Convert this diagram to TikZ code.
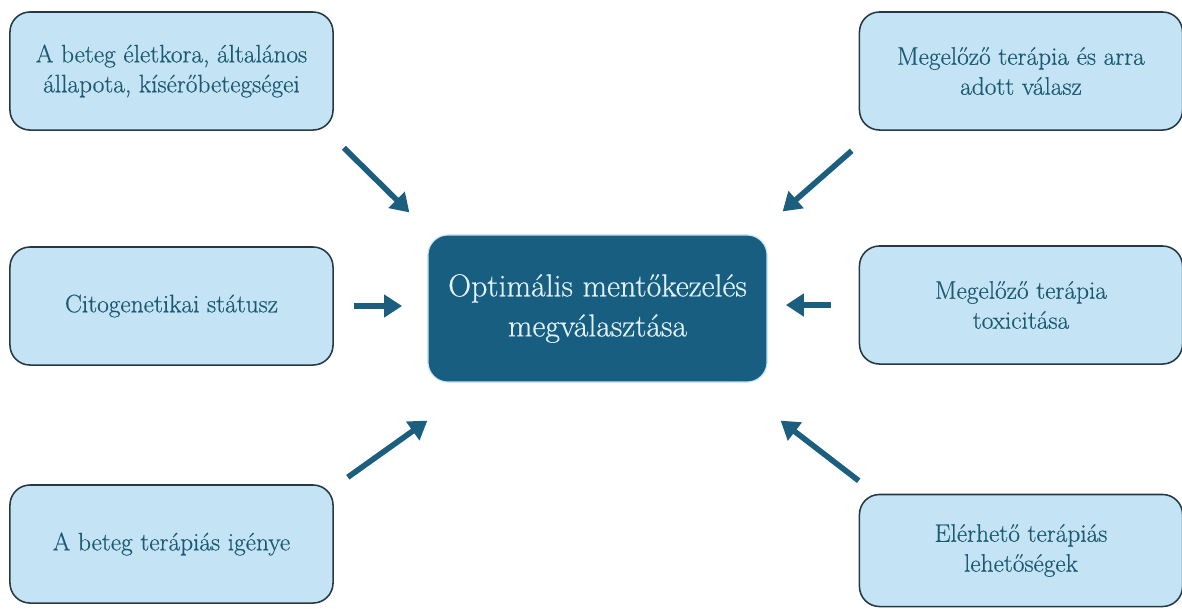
\documentclass[tikz,border=0pt]{standalone}
\usepackage{fontspec}
\newfontfamily\labelfont{Latin Modern Roman}[FakeBold=0.5]
\usepackage{xcolor}
\usetikzlibrary{arrows.meta,positioning}
\definecolor{boxfill}{RGB}{196, 228, 245}
\definecolor{boxline}{RGB}{38, 56, 68}
\definecolor{boxtext}{RGB}{28, 90, 116}
\definecolor{mainfill}{RGB}{24, 94, 128}
\definecolor{maintext}{RGB}{226, 242, 250}
\definecolor{arrowcol}{RGB}{27, 94, 126}

\begin{document}
\begin{tikzpicture}[
    x=0.025cm, y=-0.025cm,
    factor/.style={rectangle, rounded corners=0.5cm, minimum width=8.075cm,
        minimum height=2.95cm, draw=boxline, line width=1.1pt, fill=boxfill,
        text=boxtext, font=\labelfont\fontsize{18}{21.3}\selectfont, align=center},
    goal/.style={rectangle, rounded corners=0.5cm, minimum width=8.475cm,
        minimum height=3.675cm, draw=boxfill, line width=0.8pt, fill=mainfill,
        text=maintext, font=\labelfont\fontsize{22.6}{28.5}\selectfont, align=center},
    push/.style={-{Triangle[length=4.5mm, width=5.5mm]}, line width=4pt, draw=arrowcol}
]
\useasboundingbox (0,0) rectangle (1182,608);

\node[goal] (choice) at (597.5,308.5) {Optimális mentőkezelés\\megválasztása};

\node[factor] (age) at (171.5,71) {A beteg életkora, általános\\állapota, kísérőbetegségei};
\node[factor] (cyto) at (171.5,306) {Citogenetikai státusz};
\node[factor] (need) at (171.5,544) {A beteg terápiás igénye};
\node[factor] (prior) at (1021,71) {Megelőző terápia és arra\\adott válasz};
\node[factor] (tox) at (1021,305) {Megelőző terápia\\toxicitása};
\node[factor, minimum height=2.8cm] (avail) at (1021,550.5) {Elérhető terápiás\\lehetőségek};

% input arrows
\draw[push] ([shift={(10,17)}]age.south east) -- ([shift={(-18,-22)}]choice.north west);
\draw[push] ([xshift=14]cyto.east) -- ([xshift=-18]cyto.east -| choice.west);
\draw[push] ([shift={(14,-7)}]need.north east) -- ([shift={(0,38)}]choice.south west);
\draw[push] ([shift={(-7,20)}]prior.south west) -- ([shift={(15,-23)}]choice.north east);
\draw[push] ([xshift=-20]tox.west) -- ([xshift=13]tox.west -| choice.east);
\draw[push] ([shift={(0,-13)}]avail.north west) -- ([shift={(13,38)}]choice.south east);

\end{tikzpicture}
\end{document}
